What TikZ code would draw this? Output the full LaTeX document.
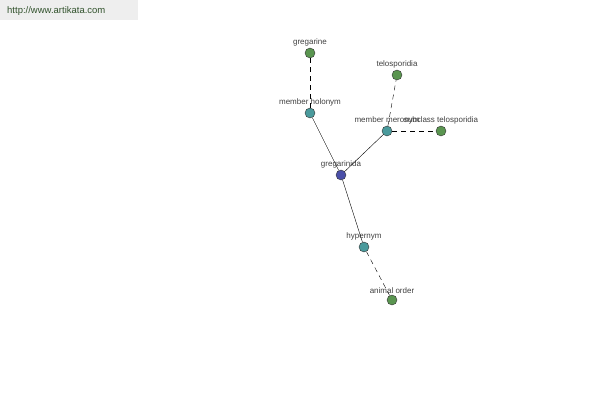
\documentclass[tikz,border=0pt]{standalone}
\usepackage{fontspec}
\setmainfont{Liberation Sans}
\usepackage{tikz}
\usetikzlibrary{positioning}
\definecolor{leafgreen}{HTML}{5A9550}
\definecolor{reltealc}{HTML}{4A9A9C}
\definecolor{rootblue}{HTML}{4A4FA8}
\definecolor{textgrey}{HTML}{404040}
\definecolor{markgrey}{HTML}{EEEEEE}

\begin{document}
\begin{tikzpicture}[x=1pt, y=-1pt,
  wordnode/.style={circle, draw=black!80, thin, fill=#1, inner sep=0pt, minimum size=10pt},
  wordlabel/.style={font=\fontsize{8}{9}\selectfont, text=textgrey, inner sep=1pt},
  rel/.style={black, thin},
  see/.style={black, thin, dash pattern=on 5pt off 4pt}
]
  \useasboundingbox (0,0) rectangle (600,400);
  \fill[markgrey] (0,0) rectangle (138,20);
  \node[font=\fontsize{9.5}{11}\selectfont, text=leafgreen!55!black, anchor=west, inner sep=0pt] (mark) at (7,11) {http://www.artikata.com};

  % word and relation nodes
  \node[wordnode=rootblue, label={[wordlabel]above:gregarinida}] (gregarinida) at (341,175) {};
  \node[wordnode=reltealc, label={[wordlabel]above:member holonym}] (holonym) at (310,113) {};
  \node[wordnode=reltealc, label={[wordlabel]above:member meronym}] (meronym) at (387,131) {};
  \node[wordnode=reltealc, label={[wordlabel]above:hypernym}] (hypernym) at (364,247) {};

  \node[wordnode=leafgreen, label={[wordlabel]above:gregarine}] (gregarine) at (310,53) {};
  \node[wordnode=leafgreen, label={[wordlabel]above:telosporidia}] (telosporidia) at (397,75) {};
  \node[wordnode=leafgreen, label={[wordlabel]above:subclass telosporidia}] (subclass) at (441,131) {};
  \node[wordnode=leafgreen, label={[wordlabel]above:animal order}] (animalorder) at (392,300) {};

  \draw[rel] (gregarinida) -- (holonym);
  \draw[rel] (gregarinida) -- (meronym);
  \draw[rel] (gregarinida) -- (hypernym);
  \draw[see] (holonym) -- (gregarine);
  \draw[see] (meronym) -- (telosporidia);
  \draw[see] (meronym) -- (subclass);
  \draw[see] (hypernym) -- (animalorder);
\end{tikzpicture}
\end{document}
